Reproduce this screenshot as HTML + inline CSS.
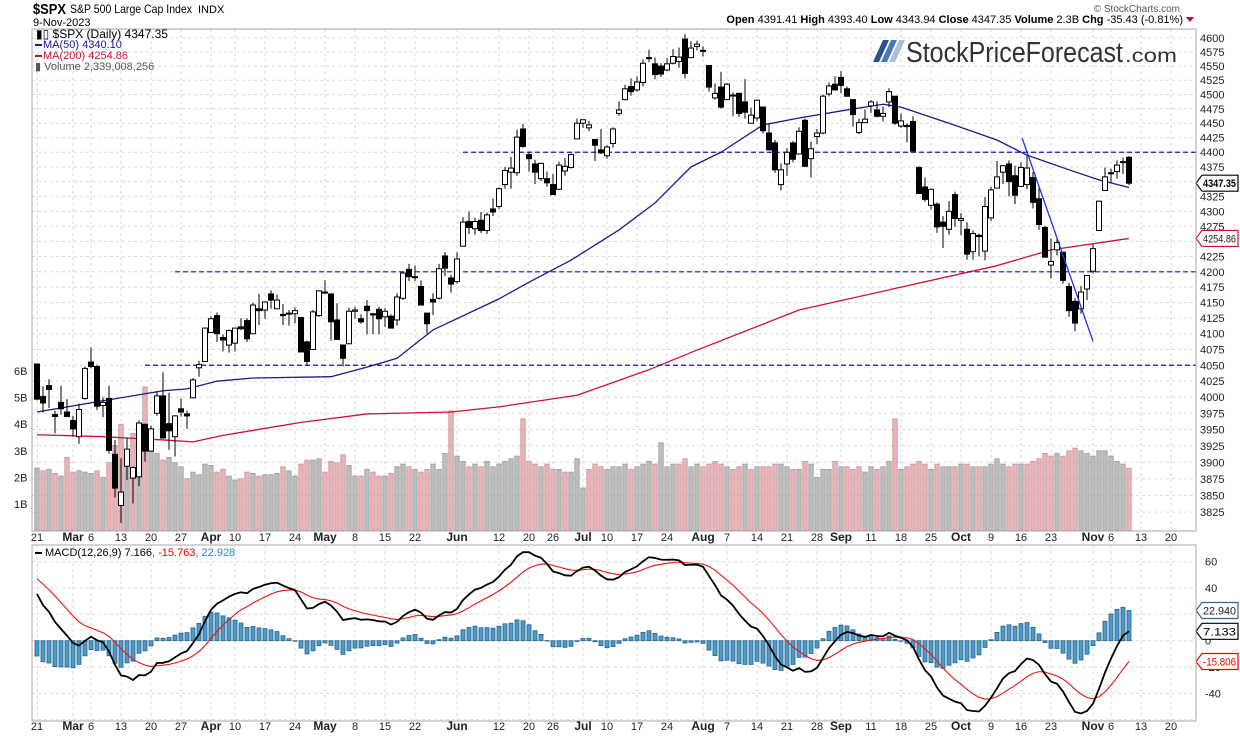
<!DOCTYPE html>
<html><head><meta charset="utf-8"><style>
html,body{margin:0;padding:0;background:#fff;}
svg{display:block;font-family:"Liberation Sans",Arial,sans-serif;}
</style></head><body>
<svg id="chart" width="1240" height="737" viewBox="0 0 1240 737" xmlns="http://www.w3.org/2000/svg">
<rect width="1240" height="737" fill="#fff"/>
<text x="33" y="14" font-size="15" font-weight="bold" textLength="33" lengthAdjust="spacingAndGlyphs">$SPX</text>
<text x="70" y="13" font-size="12" textLength="122" lengthAdjust="spacingAndGlyphs">S&amp;P 500 Large Cap Index</text>
<text x="198" y="13" font-size="11">INDX</text>
<text x="33" y="26" font-size="11">9-Nov-2023</text>
<text x="1180" y="12" font-size="10" fill="#555" text-anchor="end">© StockCharts.com</text>
<text x="1183" y="23" font-size="11" text-anchor="end"><tspan font-weight="bold">Open</tspan> 4391.41  <tspan font-weight="bold">High</tspan> 4393.40  <tspan font-weight="bold">Low</tspan> 4343.94  <tspan font-weight="bold">Close</tspan> 4347.35  <tspan font-weight="bold">Volume</tspan> 2.3B  <tspan font-weight="bold">Chg</tspan> -35.43 (-0.81%)</text>
<polygon points="1186,17 1194,17 1190,22" fill="#b0103a"/>
<g id="grid"></g>
<g id="vol"></g>
<g id="lines"></g>
<g id="candles"></g>
<g id="macd"></g>
<g id="labels"></g>
<rect x="32" y="29" width="1164" height="502" fill="none" stroke="#aaa"/>
<rect x="32" y="545" width="1164" height="176" fill="none" stroke="#aaa"/>
<g>
<polygon points="873,62 879,62 889,40 883,40" fill="#2d4f8a"/>
<polygon points="881,62 887,62 897,40 891,40" fill="#4a78b5"/>
<polygon points="889,62 895,62 905,40 899,40" fill="#a9bfd9"/>
<text x="906" y="62" font-size="29" fill="#333" textLength="217" lengthAdjust="spacingAndGlyphs">StockPriceForecast</text>
<text x="1125" y="62" font-size="19" fill="#333" textLength="52" lengthAdjust="spacingAndGlyphs">.com</text>
</g>
<g font-size="11">
<text x="36" y="38" font-size="12">▮▯ $SPX (Daily) 4347.35</text>
<rect x="35" y="44" width="7" height="2" fill="#1a1a8c"/><text x="43" y="48" fill="#1a1a8c">MA(50) 4340.10</text>
<rect x="35" y="55" width="7" height="2" fill="#cc1133"/><text x="43" y="59" fill="#cc1133">MA(200) 4254.86</text>
<text x="35" y="70" fill="#555">▮ Volume 2,339,008,256</text>
</g>
<g font-size="11">
<rect x="35" y="552" width="7" height="2" fill="#000"/>
<text x="45" y="556">MACD(12,26,9) 7.166<tspan fill="#e00">, -15.763</tspan><tspan fill="#2a8ac0">, 22.928</tspan></text>
</g>
</svg>
<script>
const closes=[3997,3991,4012,3970,3982,3970,3951,3981,4045,4048,
3986,3992,3918,3861,3855,3920,3892,3960,3917,3951,
4002,3937,3948,3971,3977,3971,4027,4051,4109,4124,
4100,4090,4105,4109,4108,4092,4146,4137,4151,4154,
4154,4129,4133,4137,4071,4056,4135,4169,4167,4119,
4091,4061,4136,4138,4119,4137,4130,4124,4136,4109,
4159,4198,4192,4192,4146,4116,4151,4205,4206,4180,
4221,4282,4273,4283,4268,4294,4299,4338,4369,4373,
4426,4410,4389,4366,4381,4348,4328,4378,4376,4396,
4450,4456,4447,4412,4399,4409,4440,4473,4510,4505,
4522,4555,4565,4535,4536,4554,4567,4566,4537,4582,
4589,4577,4513,4502,4478,4518,4499,4467,4469,4464,
4490,4437,4404,4370,4370,4400,4388,4436,4376,4406,
4433,4497,4515,4508,4516,4497,4465,4451,4457,4487,
4462,4467,4505,4450,4454,4444,4402,4330,4320,4337,
4274,4275,4300,4288,4288,4229,4263,4258,4308,4336,
4358,4377,4350,4327,4374,4373,4315,4278,4224,4217,
4248,4186,4137,4117,4167,4194,4238,4317,4358,4365,
4378,4383,4347.35];
const opens=[4052,4001,4018,3973,3992,3977,3964,3939,3998,4055,
4048,3987,3998,3912,3835,3894,3876,3878,3958,3917,
3975,4002,3959,3939,3982,3974,3999,4046,4056,4102,
4129,4094,4082,4085,4111,4121,4100,4140,4138,4164,
4140,4131,4132,4132,4126,4087,4075,4129,4166,4164,
4122,4082,4084,4136,4124,4144,4132,4139,4127,4128,
4122,4157,4204,4191,4176,4133,4155,4157,4226,4190,
4184,4242,4283,4271,4285,4268,4304,4308,4345,4366,
4365,4440,4396,4380,4355,4355,4345,4337,4368,4374,
4423,4450,4442,4422,4404,4394,4415,4467,4491,4514,
4508,4521,4564,4554,4550,4543,4555,4558,4598,4565,
4585,4578,4551,4494,4513,4491,4498,4502,4487,4450,
4459,4478,4433,4416,4345,4380,4416,4397,4455,4389,
4427,4433,4501,4518,4530,4510,4491,4434,4451,4480,
4473,4462,4487,4497,4445,4446,4453,4374,4341,4310,
4312,4282,4270,4328,4285,4270,4233,4260,4234,4289,
4339,4366,4380,4360,4342,4345,4357,4321,4273,4211,
4236,4232,4176,4152,4140,4172,4201,4268,4335,4364,
4367,4384,4391.41];
const highs=[4052,4017,4028,3979,4018,3997,3971,3990,4048,4078,
4051,4000,4018,3934,3906,3937,3894,3964,3959,3956,
4009,4039,4007,3972,3998,3979,4030,4057,4110,4128,
4134,4099,4107,4109,4125,4125,4150,4164,4152,4170,
4163,4148,4138,4142,4126,4089,4138,4170,4186,4164,
4149,4083,4142,4143,4131,4154,4133,4143,4141,4131,
4165,4200,4213,4210,4186,4133,4165,4213,4232,4195,
4232,4290,4300,4289,4299,4298,4322,4340,4375,4392,
4439,4449,4401,4387,4382,4367,4363,4384,4390,4398,
4458,4456,4454,4422,4440,4412,4443,4488,4517,4528,
4532,4562,4579,4565,4555,4564,4580,4583,4607,4594,
4595,4585,4551,4519,4540,4520,4504,4503,4527,4477,
4490,4478,4449,4421,4381,4407,4419,4443,4458,4418,
4440,4500,4521,4532,4541,4514,4491,4458,4474,4490,
4488,4479,4511,4497,4467,4450,4462,4376,4357,4338,
4315,4292,4317,4333,4297,4282,4268,4263,4324,4341,
4385,4378,4386,4377,4383,4394,4366,4339,4276,4255,
4255,4233,4182,4157,4177,4195,4245,4318,4374,4372,
4386,4391,4393.40];
const lows=[3995,3976,3983,3944,3973,3969,3939,3928,3996,4045,
3980,3969,3913,3847,3809,3873,3838,3864,3901,3916,
3971,3936,3919,3909,3970,3951,3999,4032,4056,4101,
4087,4072,4070,4072,4106,4087,4099,4114,4124,4140,
4140,4114,4113,4117,4072,4049,4075,4127,4164,4089,
4090,4048,4084,4124,4116,4099,4099,4099,4111,4109,
4113,4154,4185,4185,4146,4100,4130,4155,4193,4166,
4181,4242,4262,4261,4264,4262,4292,4304,4338,4338,
4360,4408,4367,4346,4351,4341,4328,4336,4360,4372,
4423,4442,4436,4385,4397,4389,4408,4463,4490,4498,
4505,4514,4557,4527,4531,4541,4553,4547,4528,4565,
4578,4567,4505,4491,4475,4491,4462,4461,4458,4450,
4454,4432,4404,4365,4335,4360,4383,4396,4375,4357,
4414,4431,4497,4507,4502,4496,4444,4431,4451,4468,
4460,4453,4478,4447,4442,4417,4402,4329,4316,4303,
4264,4239,4261,4274,4260,4220,4220,4225,4219,4284,
4339,4346,4325,4312,4342,4337,4305,4269,4223,4189,
4227,4181,4127,4104,4132,4154,4197,4268,4335,4348,
4355,4363,4343.94];
const volumes=[2.35,2.25,2.3,2.15,2.05,2.75,2.2,2.25,2.2,2.15,
2.25,2.0,2.55,3.2,4.0,3.0,3.65,3.6,5.4,3.0,
2.9,2.65,2.75,2.55,2.4,1.95,2.2,2.1,2.5,2.45,
2.2,2.3,2.05,1.9,1.95,2.2,2.15,2.05,2.1,2.1,
2.15,2.4,2.25,2.05,2.5,2.65,2.65,2.7,2.2,2.6,
2.55,2.85,2.45,2.05,2.05,2.3,2.2,2.05,2.05,2.15,
2.4,2.5,2.4,2.3,2.2,2.3,2.5,2.3,2.9,4.5,
2.8,2.6,2.4,2.5,2.4,2.6,2.4,2.5,2.6,2.7,
2.8,4.2,2.6,2.5,2.4,2.5,2.3,2.3,2.2,2.2,
2.7,1.6,2.3,2.5,2.4,2.3,2.4,2.4,2.5,2.3,
2.4,2.5,2.6,2.5,3.3,2.4,2.5,2.5,2.7,2.4,
2.5,2.4,2.5,2.6,2.5,2.4,2.3,2.4,2.5,2.3,
2.4,2.4,2.4,2.5,2.5,2.4,2.3,2.3,2.6,2.5,
2.0,2.3,2.3,2.6,2.4,2.4,2.3,2.4,2.2,2.4,
2.3,2.4,2.6,4.2,2.3,2.4,2.5,2.6,2.5,2.3,
2.5,2.4,2.4,2.4,2.5,2.5,2.4,2.4,2.4,2.5,
2.7,2.5,2.4,2.5,2.5,2.5,2.6,2.7,2.9,2.8,
2.9,2.8,3.0,3.1,3.0,2.9,2.8,3.0,3.0,2.8,
2.6,2.5,2.34];
const ma50Idx=[0,12,21,25,30,36,49,55,60,66,77,82,89,97,103,109,114,121,127,135,141,144,152,160,165,172,177,182];
const ma50Val=[3977,3996,4010,4013,4025,4030,4032,4047,4061,4106,4156,4183,4219,4269,4314,4375,4400,4447,4459,4473,4483,4478,4450,4421,4395,4370,4353,4340.10];
const ma200Idx=[0,11,21,26,31,44,55,69,77,90,102,110,127,144,160,169,182];
const ma200Val=[3942,3939,3934,3931,3941,3961,3974,3977,3985,4003,4043,4074,4138,4175,4210,4236,4254.86];
const levels=[4400,4200,4050];
const levelStart=[71,23,18];
const trendIdx=[164.2,176];
const trendVal=[4424,4088];
const priceTicks=[4600,4575,4550,4525,4500,4475,4450,4425,4400,4375,4350,4325,4300,4275,4250,4225,4200,4175,4150,4125,4100,4075,4050,4025,4000,3975,3950,3925,3900,3875,3850,3825];
const volTicks=[1,2,3,4,5,6];
const macdTicks=[60,40,20,0,-20,-40];
const dateIdx=[0,6,9,14,19,24,29,33,38,43,48,53,58,63,70,77,82,86,91,95,100,105,111,115,120,125,130,134,139,144,149,154,159,164,169,176,179,184,189];
const dateLbl=["21","Mar","6","13","20","27","Apr","10","17","24","May","8","15","22","Jun","12","20","26","Jul","10","17","24","Aug","7","14","21","28","Sep","11","18","25","Oct","9","16","23","Nov","6","13","20"];
const dateBold=[0,1,0,0,0,0,1,0,0,0,1,0,0,0,1,0,0,0,1,0,0,0,1,0,0,0,0,1,0,0,0,1,0,0,0,1,0,0,0];

const NS="http://www.w3.org/2000/svg";
const X=i=>37+6*i;
const Yp=p=>38+2570*Math.log(4600/p);
const Yv=v=>530.6-26.6*v;
const Ym=m=>640.7-1.316*m;
function mk(tag,attrs,parent){const e=document.createElementNS(NS,tag);for(const k in attrs)e.setAttribute(k,attrs[k]);parent.appendChild(e);return e;}
const G=document.getElementById('grid'),V=document.getElementById('vol'),L=document.getElementById('lines'),C=document.getElementById('candles'),M=document.getElementById('macd'),T=document.getElementById('labels');

priceTicks.forEach(p=>{
  const y=Yp(p);
  const g=mk('line',{x1:32,x2:1196,y1:y,y2:y,stroke:'#d9d9d9','stroke-dasharray':'3,3'},G);
  
  
  const t=mk('text',{x:1200,y:y+4,'font-size':11,fill:'#222'},T);t.textContent=p;
  
  
});
volTicks.forEach(v=>{
  const t=mk('text',{x:14,y:Yv(v)+4,'font-size':11,fill:'#222'},T);t.textContent=v+'B';
  
  
});
[60,40,20,0,-20,-40,-60].forEach(m=>{
  const g=mk('line',{x1:32,x2:1196,y1:Ym(m),y2:Ym(m),stroke:'#d9d9d9','stroke-dasharray':'3,3'},G);
  
  
});
macdTicks.forEach(m=>{
  const t=mk('text',{x:1205,y:Ym(m)+4,'font-size':11,fill:'#222'},T);t.textContent=m;
  
  
});
dateIdx.forEach((d,k)=>{
  const x=X(d);
  [[29,531],[545,721]].forEach(r=>{
    const g=mk('line',{x1:x,x2:x,y1:r[0],y2:r[1],stroke:'#d9d9d9','stroke-dasharray':'3,3'},G);
    
    
  });
  [541,730].forEach(y=>{
    const t=mk('text',{x:x,y:y,'font-size':dateBold[k]?12:11,'font-weight':dateBold[k]?'bold':'normal','text-anchor':'middle',fill:'#222'},T);
    t.textContent=dateLbl[k];
    
    
  });
});
volumes.forEach((v,i)=>{
  const down=i>0&&closes[i]<closes[i-1];
  const r=mk('rect',{x:X(i)-2.2,y:Yv(v),width:4.4,height:530.6-Yv(v),fill:down?'#e6b4b9':'#bdbdbd',stroke:down?'#cf8e96':'#9a9a9a','stroke-width':0.8},V);
  
  
});
function poly(idx,val,yf,color,name,w){
  const pts=idx.map((d,k)=>X(d)+','+yf(val[k])).join(' ');
  const p=mk('polyline',{points:pts,fill:'none',stroke:color,'stroke-width':w||1.3,'stroke-linejoin':'round'},L);
  
  
  return p;
}
poly(ma200Idx,ma200Val,Yp,'#cc1133','ma200-line');
poly(ma50Idx,ma50Val,Yp,'#1a1a8c','ma50-line');
levels.forEach((lv,k)=>{
  const l=mk('line',{x1:X(levelStart[k]),x2:1196,y1:Yp(lv),y2:Yp(lv),stroke:'#1010dd','stroke-width':1.2,'stroke-dasharray':'5,3'},L);
  
  
});
closes.forEach((c,i)=>{
  const o=opens[i],x=X(i);
  const w=mk('line',{x1:x,x2:x,y1:Yp(highs[i]),y2:Yp(lows[i]),stroke:'#000','stroke-width':1},C);
  
  
  const top=Yp(Math.max(o,c)),bot=Yp(Math.min(o,c));
  const b=mk('rect',{x:x-2.5,y:top,width:5,height:Math.max(1,bot-top),fill:c>=o?'#fff':'#000',stroke:'#000','stroke-width':1},C);
  
  
});
const tl=mk('line',{x1:X(trendIdx[0]),y1:Yp(trendVal[0]),x2:X(trendIdx[1]),y2:Yp(trendVal[1]),stroke:'#2233ee','stroke-width':1.3},C);


let e12=4075,e26=4030,sig=50;const macd=[],signal=[],hist=[];
closes.forEach(c=>{e12+=(c-e12)*2/13;e26+=(c-e26)*2/27;const m=e12-e26;sig+=(m-sig)*0.2;macd.push(m);signal.push(sig);hist.push(m-sig);});
hist.forEach((h,i)=>{
  const y0=Ym(0),y1=Ym(h);
  const r=mk('rect',{x:X(i)-2,y:Math.min(y0,y1),width:4,height:Math.max(0.5,Math.abs(y1-y0)),fill:'#4d9ac7',stroke:'#23648c','stroke-width':0.8},M);
  
  
});
const allIdx=closes.map((_,i)=>i);
const sp=mk('polyline',{points:allIdx.map(i=>X(i)+','+Ym(signal[i])).join(' '),fill:'none',stroke:'#ee1111','stroke-width':1.1},M);


const mp=mk('polyline',{points:allIdx.map(i=>X(i)+','+Ym(macd[i])).join(' '),fill:'none',stroke:'#000','stroke-width':1.8},M);


function tag(y,txt,border,color,bold,name){
  const g=mk('g',{},T);
  
  
  mk('polygon',{points:`1196,${y} 1202,${y-8} 1238,${y-8} 1238,${y+8} 1202,${y+8}`,fill:'#fff',stroke:border,'stroke-width':1.2},g);
  const t=mk('text',{x:1203,y:y+4,'font-size':11,fill:color,'font-weight':bold?'bold':'normal',textLength:33,lengthAdjust:'spacingAndGlyphs'},g);t.textContent=txt;
}
const last=closes.length-1;
tag(Yp(closes[last]),closes[last].toFixed(2),'#000','#000',true,'last-price-tag');
tag(Yp(ma200Val[ma200Val.length-1]),ma200Val[ma200Val.length-1].toFixed(2),'#cc1133','#222',false,'ma200-tag');
tag(Ym(hist[last]),hist[last].toFixed(3),'#2a6a9a','#222',false,'histogram-tag');
tag(Ym(macd[last]),macd[last].toFixed(3),'#000','#000',false,'macd-tag');
tag(Ym(signal[last]),signal[last].toFixed(3),'#e00','#e00',false,'signal-tag');
</script>
</body></html>
